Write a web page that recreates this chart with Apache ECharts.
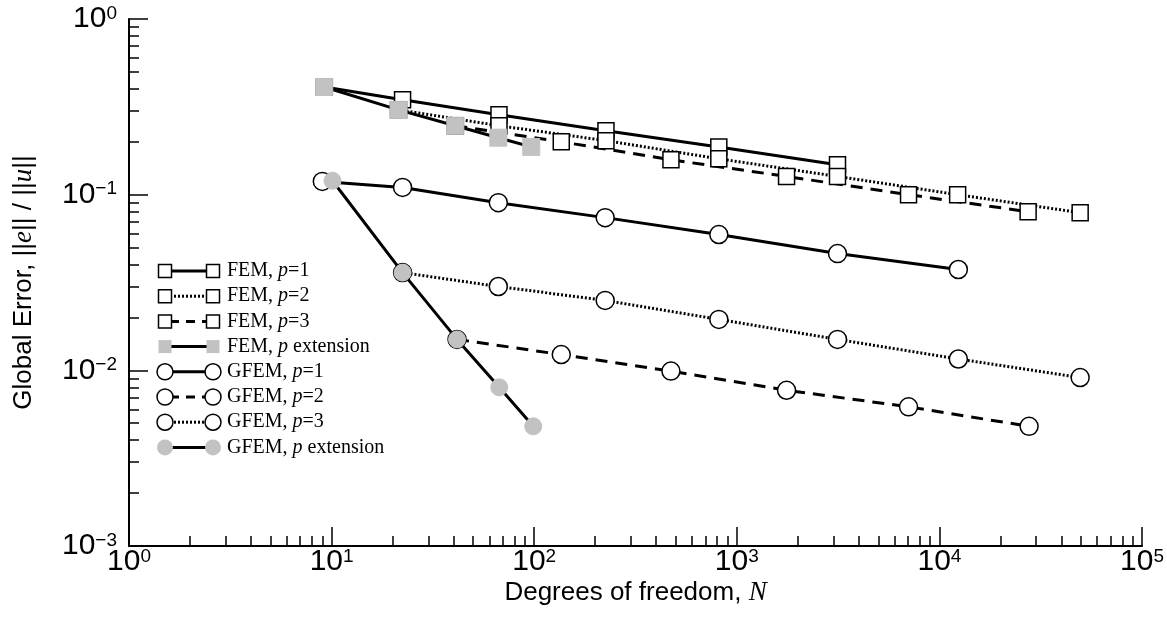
<!DOCTYPE html>
<html>
<head>
<meta charset="utf-8">
<script src="https://cdn.jsdelivr.net/npm/echarts@6/dist/echarts.min.js"></script>
<style>html,body{margin:0;padding:0;background:#fff}#c{width:1167px;height:626px}</style>
</head>
<body>
<div id="c"></div>
<script>
// ---- data ----
const femP1N = [9.2, 22.4, 67, 226, 815, 3140];
const femP1E = [0.41, 0.347, 0.285, 0.231, 0.187, 0.148];
const femP2N = [21.4, 67, 226, 815, 3140, 12300, 49500];
const femP2E = [0.304, 0.247, 0.203, 0.160, 0.127, 0.100, 0.079];
const femP3N = [40.8, 136, 473, 1760, 7040, 27400];
const femP3E = [0.247, 0.200, 0.158, 0.127, 0.100, 0.080];
const femPextN = [9.2, 21.4, 40.8, 66.5, 96.7];
const femPextE = [0.41, 0.304, 0.247, 0.211, 0.187];
const gfemP1N = [9.0, 22.4, 66.5, 224, 815, 3140, 12400];
const gfemP1E = [0.119, 0.110, 0.090, 0.074, 0.0593, 0.0462, 0.0375];
const gfemP2N = [41.6, 136, 473, 1760, 7040, 27700];
const gfemP2E = [0.015, 0.0123, 0.0099, 0.0077, 0.0062, 0.0048];
const gfemP3N = [22.4, 66.5, 224, 815, 3140, 12400, 49500];
const gfemP3E = [0.036, 0.030, 0.025, 0.0195, 0.015, 0.0116, 0.0091];
const gfemPextN = [10.1, 22.4, 41.6, 67.2, 98.9];
const gfemPextE = [0.120, 0.036, 0.015, 0.0080, 0.0048];

const xMajor = [1, 10, 100, 1000, 10000, 100000];
const yMajor = [0.001, 0.01, 0.1, 1];
const seriesNames = ['FEM, {i|p}=1', 'FEM, {i|p}=2', 'FEM, {i|p}=3', 'FEM, {i|p} extension',
                     'GFEM, {i|p}=1', 'GFEM, {i|p}=2', 'GFEM, {i|p}=3', 'GFEM, {i|p} extension'];

function minors(majors) {
  const out = [];
  for (let k = 0; k < majors.length - 1; k++) {
    for (let m = 2; m <= 9; m++) out.push(+(majors[k] * m).toPrecision(6));
  }
  return out;
}
const xMinor = minors(xMajor);
const yMinor = minors(yMajor);

const pair = (N, E) => N.map((n, i) => [n, E[i]]);

const SANS = 'Liberation Sans';
const SERIF = 'Liberation Serif';
const GRAY = '#c2c2c2';

function powLabel(v) {
  const e = Math.round(Math.log10(v));
  return '{b|10}{s|' + (e < 0 ? '\u2212' + (-e) : e) + '}';
}
const powRich = {
  b: { fontFamily: SANS, fontSize: 30, color: '#000', verticalAlign: 'bottom', lineHeight: 30 },
  s: { fontFamily: SANS, fontSize: 19, color: '#000', verticalAlign: 'top', lineHeight: 20 }
};

const axisLineStyle = { color: '#000', width: 2 };

const openStyle = { color: '#fff', borderColor: '#000', borderWidth: 1.5 };
function mk(name, N, E, symbol, size, dash, gray, z) {
  return {
    name: name, type: 'line', data: pair(N, E), symbol: symbol, symbolSize: size,
    showAllSymbol: true, z: z,
    itemStyle: gray ? { color: GRAY, borderColor: GRAY, borderWidth: 1 } : openStyle,
    lineStyle: { color: '#000', width: 3, type: dash },
    emphasis: { disabled: true }, silent: true
  };
}

// legend built as graphics: symbol - line - symbol + text
const legendRows = [
  ['rect', 'solid', false], ['rect', 'dotted', false], ['rect', 'dashed', false], ['rect', 'solid', true],
  ['circle', 'solid', false], ['circle', 'dashed', false], ['circle', 'dotted', false], ['circle', 'solid', true]
];
const legendGraphics = [];
legendRows.forEach((r, i) => {
  const y = 271 + i * 25.2;
  const dash = r[1] === 'dashed' ? [9, 7] : r[1] === 'dotted' ? [2, 2] : null;
  legendGraphics.push({ type: 'line', shape: { x1: 170, y1: y, x2: 207, y2: y },
    style: { stroke: '#000', lineWidth: 3, lineDash: dash } });
  [165, 213].forEach(cx => {
    const st = r[2] ? { fill: GRAY, stroke: null } : { fill: '#fff', stroke: '#000', lineWidth: 1.5 };
    if (r[0] === 'rect') legendGraphics.push({ type: 'rect', shape: { x: cx - 6.5, y: y - 6.5, width: 13, height: 13 }, style: st, z: 10 });
    else legendGraphics.push({ type: 'circle', shape: { cx: cx, cy: y, r: 8 }, style: st, z: 10 });
  });
  legendGraphics.push({ type: 'text', x: 227, y: y, z: 10,
    style: { text: seriesNames[i], fontFamily: SERIF, fontSize: 20, fill: '#000', verticalAlign: 'middle',
      rich: { i: { fontFamily: SERIF, fontSize: 20, fontStyle: 'italic', fill: '#000' } } } });
});

const chart = echarts.init(document.getElementById('c'), null, { renderer: 'canvas' });
chart.setOption({
  animation: false,
  backgroundColor: '#fff',
  grid: { left: 129, right: 23, top: 19, bottom: 80, containLabel: false },
  xAxis: [
    { type: 'log', logBase: 10, min: 1, max: 100000, position: 'bottom',
      axisLine: { lineStyle: axisLineStyle },
      axisTick: { inside: true, length: 19, customValues: xMajor, lineStyle: { color: '#000', width: 1.5 } },
      axisLabel: { customValues: xMajor, formatter: powLabel, rich: powRich, margin: 1 },
      splitLine: { show: false }, minorTick: { show: false },
      name: '{a|Degrees of freedom, }{n|N}', nameLocation: 'middle', nameGap: 33, nameMoveOverlap: false,
      nameTextStyle: { rich: { a: { fontFamily: SANS, fontSize: 26, color: '#000' },
        n: { fontFamily: SERIF, fontSize: 27, fontStyle: 'italic', color: '#000' } } } },
    { type: 'log', logBase: 10, min: 1, max: 100000, position: 'bottom',
      axisLine: { show: false },
      axisTick: { inside: true, length: 10, customValues: xMinor, lineStyle: { color: '#000', width: 1.5 } },
      axisLabel: { show: false }, splitLine: { show: false } }
  ],
  yAxis: [
    { type: 'log', logBase: 10, min: 0.001, max: 1, position: 'left',
      axisLine: { lineStyle: axisLineStyle },
      axisTick: { inside: true, length: 19, customValues: yMajor, lineStyle: { color: '#000', width: 1.5 } },
      axisLabel: { customValues: yMajor, formatter: powLabel, rich: powRich, margin: 12 },
      splitLine: { show: false },
      name: '{a|Global Error, ||}{e|e}{a||| / ||}{e|u}{a|||}', nameLocation: 'middle', nameGap: 92, nameRotate: 90,
      nameMoveOverlap: false,
      nameTextStyle: { rich: { a: { fontFamily: SANS, fontSize: 26, color: '#000' },
        e: { fontFamily: SERIF, fontSize: 27, fontStyle: 'italic', color: '#000' } } } },
    { type: 'log', logBase: 10, min: 0.001, max: 1, position: 'left',
      axisLine: { show: false },
      axisTick: { inside: true, length: 10, customValues: yMinor, lineStyle: { color: '#000', width: 1.5 } },
      axisLabel: { show: false }, splitLine: { show: false } }
  ],
  series: [
    mk('FEM p=1', femP1N, femP1E, 'rect', 16, 'solid', false, 2),
    mk('FEM p=2', femP2N, femP2E, 'rect', 16, [2, 2], false, 2),
    mk('FEM p=3', femP3N, femP3E, 'rect', 16, [12, 8], false, 2),
    mk('GFEM p=1', gfemP1N, gfemP1E, 'circle', 18, 'solid', false, 2),
    mk('GFEM p=2', gfemP2N, gfemP2E, 'circle', 18, [12, 8], false, 2),
    mk('GFEM p=3', gfemP3N, gfemP3E, 'circle', 18, [2, 2], false, 2),
    mk('FEM p ext', femPextN, femPextE, 'rect', 17, 'solid', true, 3),
    mk('GFEM p ext', gfemPextN, gfemPextE, 'circle', 17, 'solid', true, 3)
  ],
  graphic: legendGraphics
});
</script>
</body>
</html>
